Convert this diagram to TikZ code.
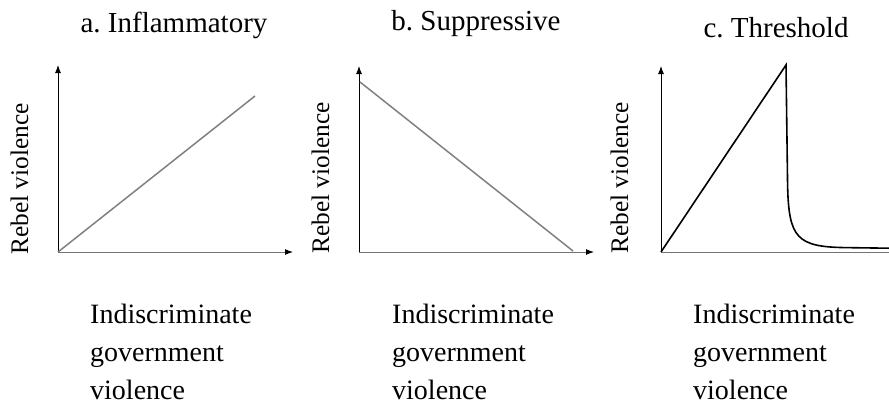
\documentclass[tikz,border=0pt]{standalone}
\usepackage{fontspec}
\setmainfont{Liberation Serif}
\frenchspacing
\usetikzlibrary{arrows.meta}
\begin{document}
\begin{tikzpicture}[x=1pt,y=-1pt,
  yaxis/.style={line width=0.9pt, black, -{Latex[length=8pt,width=6pt,color=black]}},
  xaxis/.style={line width=1pt, black!55, -{Latex[length=8pt,width=6pt,color=black]}},
  grayline/.style={line width=1.5pt, black!50},
  blackline/.style={line width=1.6pt, black, line join=miter},
  titletext/.style={font=\fontsize{29}{34}\selectfont\frenchspacing, anchor=base, inner sep=0pt},
  ylabel/.style={font=\fontsize{25.3}{30}\selectfont, rotate=90, anchor=base, inner sep=0pt},
  xlabel/.style={font=\fontsize{28}{33}\selectfont, anchor=base west, inner sep=0pt}
]
\useasboundingbox (0,0) rectangle (889,405);
\clip (0,0) rectangle (889,405);

% ---------- Panel a ----------
\coordinate (oa) at (58,252);
\coordinate (ya) at (58,65);
\coordinate (xa) at (293,252);
\coordinate (la1) at (58,252);
\coordinate (la2) at (255,96);
\draw[xaxis] (oa) -- (xa);
\draw[yaxis] (oa) -- (ya);
\draw[grayline] (la1) -- (la2);
\node[titletext] (ta) at (174,32) {a. Inflammatory};
\node[ylabel] (ra) at (28,179) {Rebel violence};
\node[xlabel] (xa1) at (90,323) {Indiscriminate};
\node[xlabel] (xa2) at (90,361) {government};
\node[xlabel] (xa3) at (90,399) {violence};

% ---------- Panel b ----------
\coordinate (ob) at (359,252);
\coordinate (yb) at (359,66);
\coordinate (xb) at (594,252);
\coordinate (lb1) at (360,82);
\coordinate (lb2) at (573,251);
\draw[xaxis] (ob) -- (xb);
\draw[yaxis] (ob) -- (yb);
\draw[grayline] (lb1) -- (lb2);
\node[titletext] (tb) at (476,30) {b. Suppressive};
\node[ylabel] (rb) at (329,178) {Rebel violence};
\node[xlabel] (xb1) at (392,323) {Indiscriminate};
\node[xlabel] (xb2) at (392,361) {government};
\node[xlabel] (xb3) at (392,399) {violence};

% ---------- Panel c ----------
\coordinate (oc) at (661,252);
\coordinate (yc) at (661,66);
\coordinate (xc) at (897,252);
\coordinate (pc) at (786,65);
\coordinate (dc) at (787.6,186);
\coordinate (ec) at (845,247.6);
\coordinate (fc) at (889,248.2);
\draw[xaxis] (oc) -- (xc);
\draw[yaxis] (oc) -- (yc);
\draw[blackline] (oc) -- (pc) -- (dc)
  .. controls (788.8,238) and (797,246.8) .. (ec) -- (fc);
\node[titletext] (tc) at (776,37) {c. Threshold};
\node[ylabel] (rc) at (628,178) {Rebel violence};
\node[xlabel] (xc1) at (693,323) {Indiscriminate};
\node[xlabel] (xc2) at (693,361) {government};
\node[xlabel] (xc3) at (693,399) {violence};
\end{tikzpicture}
\end{document}
